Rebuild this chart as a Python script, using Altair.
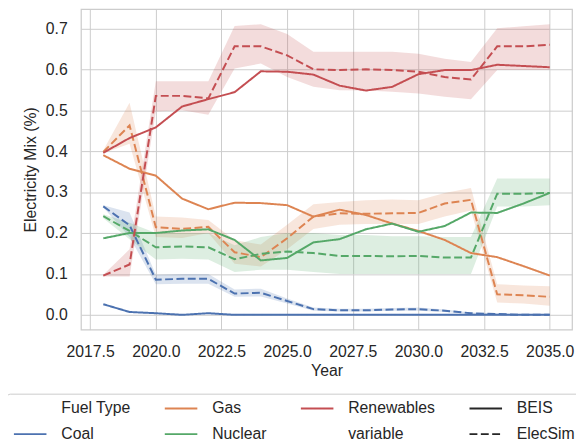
import altair as alt
import pandas as pd

# ---------------- data ----------------
years = list(range(2018, 2036))
fuels = ["Coal", "Gas", "Nuclear", "Renewables"]
sources = ["BEIS", "ElecSim"]

coal_beis = [0.026, 0.007, 0.004, 0.000, 0.004, 0.000, 0.000, 0.000, 0.000, 0.000, 0.000, 0.000, 0.000, 0.000, 0.000, 0.000, 0.000, 0.000]
gas_beis = [0.390, 0.357, 0.340, 0.284, 0.258, 0.274, 0.273, 0.268, 0.240, 0.257, 0.244, 0.223, 0.205, 0.183, 0.151, 0.141, 0.119, 0.096]
nuclear_beis = [0.187, 0.200, 0.200, 0.206, 0.209, 0.183, 0.133, 0.139, 0.177, 0.185, 0.209, 0.223, 0.203, 0.217, 0.250, 0.249, 0.272, 0.298]
renew_beis = [0.396, 0.432, 0.458, 0.509, 0.527, 0.544, 0.595, 0.594, 0.587, 0.560, 0.548, 0.557, 0.588, 0.598, 0.598, 0.611, 0.608, 0.605]

coal_sim = [0.265, 0.219, 0.086, 0.088, 0.088, 0.052, 0.054, 0.034, 0.014, 0.011, 0.011, 0.013, 0.014, 0.010, 0.004, 0.002, 0.000, 0.000]
coal_lo = [0.262, 0.190, 0.075, 0.076, 0.076, 0.044, 0.045, 0.028, 0.010, 0.008, 0.008, 0.010, 0.010, 0.007, 0.002, 0.000, 0.000, 0.000]
coal_hi = [0.268, 0.250, 0.098, 0.100, 0.100, 0.062, 0.064, 0.040, 0.018, 0.015, 0.015, 0.017, 0.018, 0.013, 0.006, 0.004, 0.001, 0.001]

gas_sim = [0.398, 0.463, 0.214, 0.210, 0.215, 0.153, 0.141, 0.187, 0.240, 0.248, 0.247, 0.248, 0.249, 0.272, 0.281, 0.050, 0.048, 0.044]
gas_lo = [0.395, 0.418, 0.190, 0.188, 0.200, 0.125, 0.118, 0.160, 0.210, 0.220, 0.222, 0.222, 0.222, 0.240, 0.255, 0.030, 0.028, 0.022]
gas_hi = [0.402, 0.518, 0.240, 0.238, 0.232, 0.182, 0.172, 0.220, 0.270, 0.276, 0.280, 0.282, 0.280, 0.298, 0.310, 0.075, 0.072, 0.070]

nuclear_sim = [0.241, 0.205, 0.165, 0.167, 0.165, 0.136, 0.149, 0.155, 0.151, 0.144, 0.144, 0.143, 0.144, 0.140, 0.140, 0.296, 0.296, 0.298]
nuclear_lo = [0.236, 0.185, 0.135, 0.137, 0.135, 0.105, 0.110, 0.110, 0.105, 0.100, 0.100, 0.100, 0.100, 0.100, 0.100, 0.265, 0.265, 0.268]
nuclear_hi = [0.246, 0.225, 0.200, 0.200, 0.200, 0.170, 0.190, 0.200, 0.200, 0.195, 0.195, 0.192, 0.192, 0.190, 0.190, 0.333, 0.333, 0.333]

renew_sim = [0.096, 0.123, 0.535, 0.535, 0.529, 0.656, 0.656, 0.634, 0.600, 0.598, 0.600, 0.598, 0.594, 0.581, 0.575, 0.656, 0.656, 0.660]
renew_lo = [0.094, 0.094, 0.497, 0.500, 0.489, 0.602, 0.614, 0.581, 0.557, 0.549, 0.548, 0.545, 0.541, 0.533, 0.527, 0.598, 0.598, 0.598]
renew_hi = [0.098, 0.160, 0.571, 0.571, 0.571, 0.706, 0.710, 0.686, 0.643, 0.643, 0.643, 0.643, 0.638, 0.626, 0.618, 0.700, 0.705, 0.710]

y_ticks = [0.0, 0.1, 0.2, 0.3, 0.4, 0.5, 0.6, 0.7]
x_ticks = [2017.5, 2020.0, 2022.5, 2025.0, 2027.5, 2030.0, 2032.5, 2035.0]

# legend entries in matplotlib's column-wise order
legend_entries = ["Fuel Type", "Coal", "Gas", "Nuclear", "Renewables", "variable", "BEIS", "ElecSim"]

# ---------------- styles ----------------
FONT = "Liberation Sans"
TXT = "#262626"
palette = ["#4C72B0", "#DD8452", "#55A868", "#C44E52"]
dash_styles = [[1, 0], [8, 3.5]]
legend_colors = ["transparent", "#4C72B0", "#DD8452", "#55A868",
                 "#C44E52", "transparent", "#262626", "#262626"]
legend_dashes = [[1, 0], [1, 0], [1, 0], [1, 0], [1, 0], [1, 0], [1, 0], [8, 3.5]]

# ---------------- tables ----------------
beis = {"Coal": coal_beis, "Gas": gas_beis, "Nuclear": nuclear_beis, "Renewables": renew_beis}
sim = {"Coal": (coal_sim, coal_lo, coal_hi), "Gas": (gas_sim, gas_lo, gas_hi),
       "Nuclear": (nuclear_sim, nuclear_lo, nuclear_hi), "Renewables": (renew_sim, renew_lo, renew_hi)}

line_rows, band_rows = [], []
for f in fuels:
    for yr, v in zip(years, beis[f]):
        line_rows.append({"Year": yr, "Fuel": f, "Source": "BEIS", "value": v})
    m, lo, hi = sim[f]
    for yr, v, a, b in zip(years, m, lo, hi):
        line_rows.append({"Year": yr, "Fuel": f, "Source": "ElecSim", "value": v})
        band_rows.append({"Year": yr, "Fuel": f, "lo": a, "hi": b})
line_df = pd.DataFrame(line_rows)
band_df = pd.DataFrame(band_rows)
legend_df = pd.DataFrame({"entry": legend_entries})

x_scale = alt.Scale(domain=[2017.15, 2035.85], nice=False, zero=False)
y_scale = alt.Scale(domain=[-0.036, 0.747], nice=False, zero=False)
color_scale = alt.Scale(domain=fuels, range=palette)

x_axis = alt.Axis(values=x_ticks, format=".1f", title="Year", titleX=249, titleY=34,
                  titleBaseline="top", labelFlush=False)
y_axis = alt.Axis(values=y_ticks, format=".1f", title="Electricity Mix (%)", titleX=-51,
                  titleY=162.5, titleAngle=270, titleBaseline="middle", titleAlign="center",
                  labelFlush=False)

band = alt.Chart(band_df).mark_area(opacity=0.2).encode(
    x=alt.X("Year:Q", scale=x_scale, axis=x_axis),
    y=alt.Y("lo:Q", scale=y_scale, axis=y_axis),
    y2="hi:Q",
    color=alt.Color("Fuel:N", scale=color_scale, legend=None),
)

lines = alt.Chart(line_df).mark_line(strokeWidth=2).encode(
    x=alt.X("Year:Q", scale=x_scale, axis=x_axis),
    y=alt.Y("value:Q", scale=y_scale, axis=y_axis),
    color=alt.Color("Fuel:N", scale=color_scale, legend=None),
    strokeDash=alt.StrokeDash("Source:N", scale=alt.Scale(domain=sources, range=dash_styles), legend=None),
    detail="Source:N",
)

leg_def = alt.Legend(
    orient="none", legendX=-76, legendY=390, columns=4, title=None,
    symbolType="stroke", symbolSize=1089, symbolStrokeWidth=2, clipHeight=16,
    labelFont=FONT, labelFontSize=16, labelColor=TXT, labelOffset=14, labelLimit=300,
    columnPadding=33, rowPadding=10, padding=7, gridAlign="each",
    strokeColor="#cccccc", fillColor="white", cornerRadius=4,
)

legend_layer = alt.Chart(legend_df).mark_line(strokeWidth=2).encode(
    x=alt.value(0), y=alt.value(0),
    color=alt.Color("entry:N", scale=alt.Scale(domain=legend_entries, range=legend_colors), legend=leg_def),
    strokeDash=alt.StrokeDash("entry:N", scale=alt.Scale(domain=legend_entries, range=legend_dashes), legend=leg_def),
)

chart = alt.layer(band, lines, legend_layer).resolve_scale(
    color="independent", strokeDash="independent"
).properties(
    width=498, height=325,
    autosize=alt.AutoSizeParams(type="none"),
    padding={"left": 74, "top": -2, "right": 4, "bottom": 120},
).configure_view(
    stroke="#cccccc", strokeWidth=1.25
).configure_axis(
    grid=True, gridColor="#cccccc", gridWidth=1, domain=False, ticks=False, tickSize=0,
    labelFont=FONT, labelFontSize=16, labelColor=TXT, labelPadding=14,
    titleFont=FONT, titleFontSize=16, titleFontWeight="normal", titleColor=TXT,
)

chart.save("out.html", embed_options={"renderer": "svg", "actions": False})
